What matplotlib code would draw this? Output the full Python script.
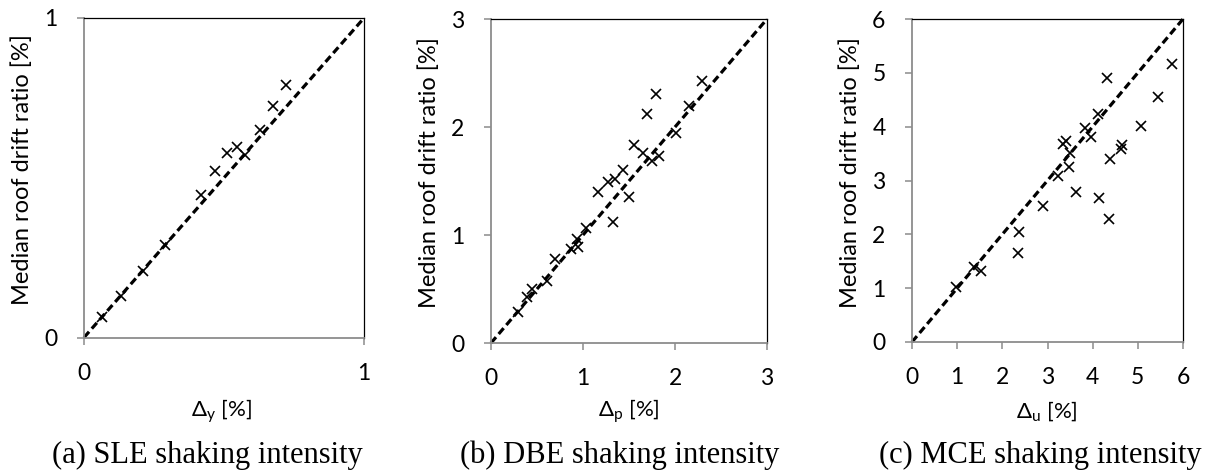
import matplotlib
matplotlib.use("Agg")
import matplotlib.pyplot as plt

plt.rcParams['font.family'] = ['Lato', 'DejaVu Sans']
plt.rcParams['mathtext.fontset'] = 'custom'
plt.rcParams['mathtext.rm'] = 'Lato'
plt.rcParams['mathtext.it'] = 'Lato:italic'

# Panel (a) SLE
sle_x = [0.065, 0.132, 0.212, 0.289, 0.417, 0.467, 0.512, 0.545, 0.575, 0.629, 0.676, 0.720]
sle_y = [0.064, 0.131, 0.208, 0.290, 0.447, 0.522, 0.576, 0.597, 0.570, 0.649, 0.725, 0.790]

# Panel (b) DBE
dbe_x = [0.29, 0.388, 0.442, 0.605, 0.696, 0.866, 0.931, 0.949, 1.033, 1.33, 1.167, 1.275,
         1.348, 1.431, 1.504, 1.558, 1.649, 1.692, 1.746, 1.83, 1.793, 2.007, 2.156, 2.297]
dbe_y = [0.29, 0.429, 0.497, 0.577, 0.781, 0.87, 0.960, 0.892, 1.062, 1.117, 1.395, 1.494,
         1.519, 1.602, 1.355, 1.833, 1.756, 2.12, 1.685, 1.731, 2.302, 1.941, 2.194, 2.43]

# Panel (c) MCE
mce_x = [0.973, 1.372, 1.527, 2.374, 2.352, 2.905, 3.223, 3.348, 3.42, 3.496, 3.473, 3.62,
         3.827, 3.96, 4.108, 4.144, 4.32, 4.38, 4.358, 4.617, 4.639, 5.066, 5.45, 5.767]
mce_y = [1.013, 1.40, 1.32, 2.04, 1.65, 2.53, 3.09, 3.67, 3.73, 3.51, 3.25, 2.78,
         3.97, 3.80, 4.24, 2.67, 4.91, 3.40, 2.29, 3.59, 3.66, 4.02, 4.56, 5.16]

ylabel_text = 'Median roof drift ratio [%]'
panels = [
    dict(x=sle_x, y=sle_y, lim=1, ticks=[0, 1], xlabel=r'Δ$_\mathregular{y}$ [%]',
         caption='(a) SLE shaking intensity', box=(84, 364, 18, 337.5), cap_x=207, xl_x=221),
    dict(x=dbe_x, y=dbe_y, lim=3, ticks=[0, 1, 2, 3], xlabel=r'Δ$_\mathregular{p}$ [%]',
         caption='(b) DBE shaking intensity', box=(491, 767, 19, 343), cap_x=620, xl_x=629),
    dict(x=mce_x, y=mce_y, lim=6, ticks=[0, 1, 2, 3, 4, 5, 6], xlabel=r'Δ$_\mathregular{u}$ [%]',
         caption='(c) MCE shaking intensity', box=(912, 1183, 19, 342), cap_x=1040, xl_x=1047),
]

W, H = 1205, 474
fig = plt.figure(figsize=(W / 100, H / 100), dpi=100)

gray = '#8c8c8c'
for p in panels:
    l, r, t, b = p['box']
    ax = fig.add_axes([l / W, 1 - b / H, (r - l) / W, (b - t) / H])
    ax.plot([0, p['lim']], [0, p['lim']], color='black', lw=2.3, ls=(0, (2.4, 1.3)),
            dash_capstyle='butt', clip_on=False, zorder=2)
    ax.plot(p['x'], p['y'], ls='none', marker='x', ms=7.5, mew=1.2, color='black', zorder=3)
    ax.set_xlim(0, p['lim'])
    ax.set_ylim(0, p['lim'])
    ax.set_xticks(p['ticks'])
    ax.set_yticks(p['ticks'])
    ax.tick_params(direction='out', length=5, width=1.1, color=gray, labelsize=16.5)
    ax.tick_params(axis='x', pad=13)
    ax.tick_params(axis='y', pad=14)
    for s in ['left', 'bottom']:
        ax.spines[s].set_color(gray)
        ax.spines[s].set_linewidth(1.3)
    for s in ['top', 'right']:
        ax.spines[s].set_color('black')
        ax.spines[s].set_linewidth(0.9)
    cy = (t + b) / 2 - 8
    fig.text((l - 62) / W, 1 - cy / H, ylabel_text, rotation=90, ha='center', va='center',
             fontsize=17)
    fig.text(p['xl_x'] / W, 1 - 411 / H, p['xlabel'], ha='center', va='center', fontsize=16)
    fig.text(p['cap_x'] / W, 1 - 455 / H, p['caption'], ha='center', va='center',
             fontsize=22, family='Liberation Serif')

fig.savefig('out.png', dpi=100)
